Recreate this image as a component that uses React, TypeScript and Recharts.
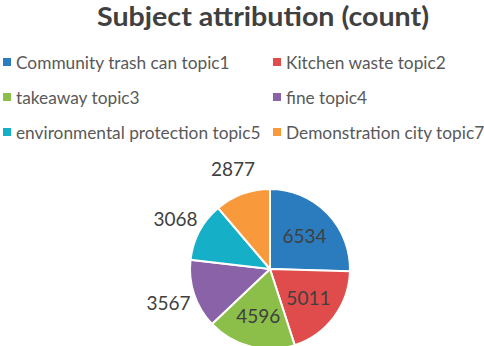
import { Pie, PieChart, Cell } from "recharts";

const topics = [
  "Community trash can topic1",
  "Kitchen waste topic2",
  "takeaway topic3",
  "fine topic4",
  "environmental protection topic5",
  "Demonstration city topic7",
];
const counts = [6534, 5011, 4596, 3567, 3068, 2877];
const colors = ["#2B7CBF", "#E04C4C", "#8BBF4A", "#8A62A7", "#15AFC8", "#F89A3C"];

const data = topics.map((name, i) => ({ name, value: counts[i] }));

const FONT = "Lato, 'Open Sans', sans-serif";
const RAD = Math.PI / 180;

// inside for the big slices, outside for the small ones
function renderLabel(props: any) {
  const { cx, cy, midAngle, outerRadius, percent, value } = props;
  const inside = percent > 0.16;
  const r = inside ? outerRadius * 0.6 : outerRadius + 27;
  const x = cx + r * Math.cos(-midAngle * RAD);
  const y = cy + r * Math.sin(-midAngle * RAD);
  return (
    <text
      x={x}
      y={y}
      fill="#404040"
      fontSize={19}
      fontFamily={FONT}
      textAnchor="middle"
      dominantBaseline="central"
    >
      {value}
    </text>
  );
}

export default function App() {
  return (
    <div style={{ position: "absolute", left: 0, top: 0, width: 484, height: 346, background: "#fff" }}>
      <div
        style={{
          position: "absolute",
          left: 263,
          top: 0,
          transform: "translateX(-50%) scaleX(1.08)",
          fontFamily: FONT,
          fontWeight: 700,
          fontSize: 26.5,
          color: "#404040",
          whiteSpace: "nowrap",
        }}
      >
        Subject attribution (count)
      </div>
      {topics.map((t, i) => (
        <div
          key={t}
          style={{
            position: "absolute",
            left: i % 2 === 0 ? 3 : 273,
            top: 52 + Math.floor(i / 2) * 35,
            height: 20,
            display: "flex",
            alignItems: "center",
            fontFamily: FONT,
            fontSize: 17.3,
            color: "#595959",
            whiteSpace: "nowrap",
          }}
        >
          <span style={{ width: 8, height: 8, background: colors[i], marginRight: 5 }} />
          {t}
        </div>
      ))}
      <div style={{ position: "absolute", left: 0, top: 0 }}>
        <PieChart width={484} height={346}>
          <Pie
            data={data}
            dataKey="value"
            cx={265}
            cy={264}
            outerRadius={80}
            startAngle={90}
            endAngle={-270}
            stroke="#fff"
            strokeWidth={2}
            label={renderLabel}
            labelLine={false}
            isAnimationActive={false}
          >
            {data.map((d, i) => (
              <Cell key={d.name} fill={colors[i]} />
            ))}
          </Pie>
        </PieChart>
      </div>
    </div>
  );
}
